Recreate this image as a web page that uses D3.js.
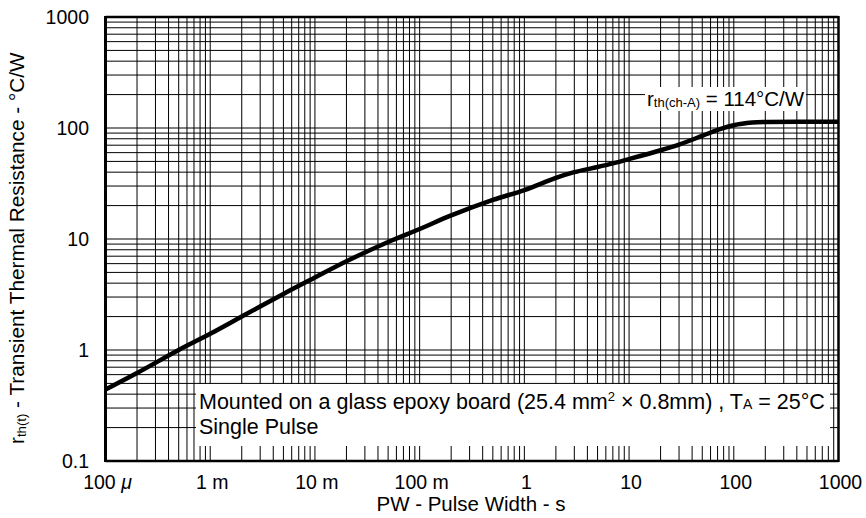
<!DOCTYPE html>
<html><head><meta charset="utf-8">
<script src="https://cdn.jsdelivr.net/npm/d3@7/dist/d3.min.js"></script>
<style>body{margin:0;background:#fff}svg{display:block}text{font-family:"Liberation Sans",Arial,sans-serif;fill:#000}</style>
</head><body><svg id="c" width="866" height="518"></svg>
<script>
const pulseWidth = [1e-4,2e-4,5e-4,1e-3,2e-3,5e-3,1e-2,2e-2,5e-2,1e-1,2e-1,5e-1,1,2,3,5,7,10,20,30,50,70,100,150,200,500,1000];
const rth        = [0.44,0.62,1.0,1.4,2.0,3.2,4.5,6.3,9.4,12.3,16.3,22.5,27.6,35.5,40,44.5,48,52.5,63,71,85,96,106,112,113.5,114,114];
const xTickVals   = [1e-4,1e-3,1e-2,1e-1,1,10,100,1000];
const xTickLabels = ["100 μ","1 m","10 m","100 m","1","10","100","1000"];
const yTickVals   = [0.1,1,10,100,1000];
const yTickLabels = ["0.1","1","10","100","1000"];

const L=105.5,R=838.5,T=17,B=461;
const x=d3.scaleLog().domain([1e-4,1e3]).range([L,R]);
const y=d3.scaleLog().domain([0.1,1000]).range([B,T]);
const svg=d3.select("#c");

// grid
const xg=[],yg=[];
for(let e=-4;e<3;e++)for(let k=1;k<10;k++)xg.push(k*Math.pow(10,e));
for(let e=-1;e<3;e++)for(let k=1;k<10;k++)yg.push(k*Math.pow(10,e));
const g=svg.append("g").attr("stroke","#000").attr("stroke-width",1);
g.selectAll(".v").data(xg).join("line").attr("x1",d=>x(d)).attr("x2",d=>x(d)).attr("y1",T).attr("y2",B);
g.selectAll(".h").data(yg).join("line").attr("y1",d=>y(d)).attr("y2",d=>y(d)).attr("x1",L).attr("x2",R);

// white boxes for annotations
svg.append("rect").attr("x",196).attr("y",384).attr("width",634).attr("height",62).attr("fill","#fff");
svg.append("rect").attr("x",645).attr("y",87).attr("width",161).attr("height",24).attr("fill","#fff");

// curve
const line=d3.line().x(d=>x(d[0])).y(d=>y(d[1])).curve(d3.curveCatmullRom.alpha(0.5));
svg.append("path").datum(pulseWidth.map((p,i)=>[p,rth[i]])).attr("d",line)
  .attr("fill","none").attr("stroke","#000").attr("stroke-width",4.5).attr("stroke-linejoin","round");

// frame
svg.append("line").attr("x1",L).attr("x2",L).attr("y1",T-1).attr("y2",B+1).attr("stroke","#000").attr("stroke-width",3);
svg.append("line").attr("x1",R).attr("x2",R).attr("y1",T-1).attr("y2",B+1).attr("stroke","#000").attr("stroke-width",2.5);
svg.append("line").attr("x1",L).attr("x2",R).attr("y1",T).attr("y2",T).attr("stroke","#000").attr("stroke-width",2.5);
svg.append("line").attr("x1",L).attr("x2",R).attr("y1",B).attr("y2",B).attr("stroke","#000").attr("stroke-width",2.5);

// tick labels
const fs=19.5, ft=20.5, fa=21.5;
svg.selectAll(".yt").data(yTickVals).join("text").attr("x",89).attr("y",d=>y(d)+7)
  .attr("text-anchor","end").attr("font-size",fs).text((d,i)=>yTickLabels[i]);
const xt=svg.selectAll(".xt").data(xTickVals).join("text").attr("x",d=>x(d)+2).attr("y",489)
  .attr("text-anchor","middle").attr("font-size",fs);
xt.each(function(d,i){
  const t=d3.select(this), s=xTickLabels[i];
  if(s.includes("μ")){t.append("tspan").text(s.replace("μ",""));t.append("tspan").attr("font-style","italic").text("μ");}
  else t.text(s);
});

// axis titles
svg.append("text").attr("x",471).attr("y",511).attr("text-anchor","middle").attr("font-size",ft).text("PW - Pulse Width - s");
const yt=svg.append("text").attr("transform","translate(24,444) rotate(-90)").attr("text-anchor","start").attr("font-size",ft);
yt.append("tspan").text("r");
const ysub=yt.append("tspan").attr("font-size",13).attr("dy",2).text("th(t)");
const ymain=yt.append("tspan").attr("dy",-2).text(" - Transient Thermal Resistance - °C/W");
// fit title to the reference span (~392px)
const len=yt.node().getComputedTextLength();
const k=392/len;
yt.attr("font-size",ft*k); ysub.attr("font-size",13*k);

// annotations
const a1=svg.append("text").attr("x",199).attr("y",409).attr("font-size",fa);
a1.append("tspan").text("Mounted on a glass epoxy board (25.4 mm");
a1.append("tspan").attr("font-size",13).attr("dy",-8).text("2");
a1.append("tspan").attr("dy",8).text(" × 0.8mm) , T");
a1.append("tspan").attr("font-size",14).text("A");
a1.append("tspan").text(" = 25°C");
svg.append("text").attr("x",199).attr("y",434).attr("font-size",fa).text("Single Pulse");

const a2=svg.append("text").attr("x",647).attr("y",106).attr("font-size",ft);
a2.append("tspan").text("r");
a2.append("tspan").attr("font-size",13).attr("dy",1).text("th(ch-A)");
a2.append("tspan").attr("dy",-1).text(" = 114°C/W");
</script></body></html>
